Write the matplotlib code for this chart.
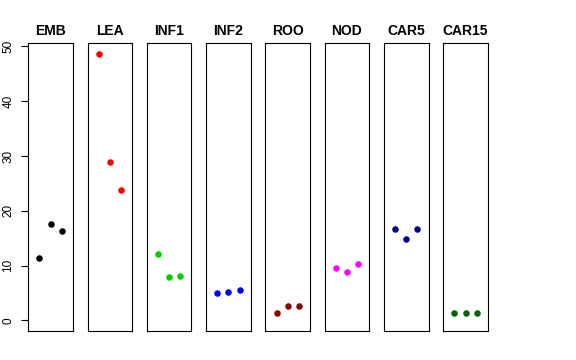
import numpy as np
import matplotlib
matplotlib.use("Agg")
import matplotlib.pyplot as plt

plt.rcParams['font.family'] = ['Liberation Sans', 'DejaVu Sans']

# tissue groups, three replicates each
groups = ['EMB', 'LEA', 'INF1', 'INF2', 'ROO', 'NOD', 'CAR5', 'CAR15']
values = [
    [11.4, 17.5, 16.3],
    [48.7, 28.9, 23.7],
    [12.1, 7.9, 8.0],
    [4.9, 5.1, 5.5],
    [1.4, 2.7, 2.7],
    [9.6, 8.8, 10.3],
    [16.6, 14.8, 16.6],
    [1.3, 1.3, 1.3],
]
colors = ['black', 'red', '#00CD00', 'blue', '#8B0000', 'magenta', '#00008B', '#006400']
yticks = [0, 10, 20, 30, 40, 50]

fig, axes = plt.subplots(1, len(groups), figsize=(5.76, 3.6), dpi=100, sharey=True)
fig.subplots_adjust(left=0.049, right=0.847, top=0.881, bottom=0.0806, wspace=0.327)

ymax = max(max(v) for v in values)
ypad = 0.04 * ymax

for i, ax in enumerate(axes):
    reps = values[i]
    ax.scatter(np.arange(1, len(reps) + 1), reps, s=22, color=colors[i],
               linewidths=0, zorder=3)
    ax.set_xlim(0, 4)
    ax.set_ylim(-ypad, ymax + ypad)
    ax.set_title(groups[i], fontsize=10, fontweight='bold', pad=6)
    ax.set_xticks([])
    for s in ax.spines.values():
        s.set_linewidth(0.8)
        s.set_color('black')
    if i == 0:
        ax.set_yticks(yticks)
        ax.tick_params(axis='y', length=5, width=0.8, labelsize=8.5, pad=5)
        for lab in ax.get_yticklabels():
            lab.set_rotation(90)
            lab.set_va('center')
    else:
        ax.tick_params(axis='y', left=False, labelleft=False)

fig.savefig('out.png', dpi=100)
